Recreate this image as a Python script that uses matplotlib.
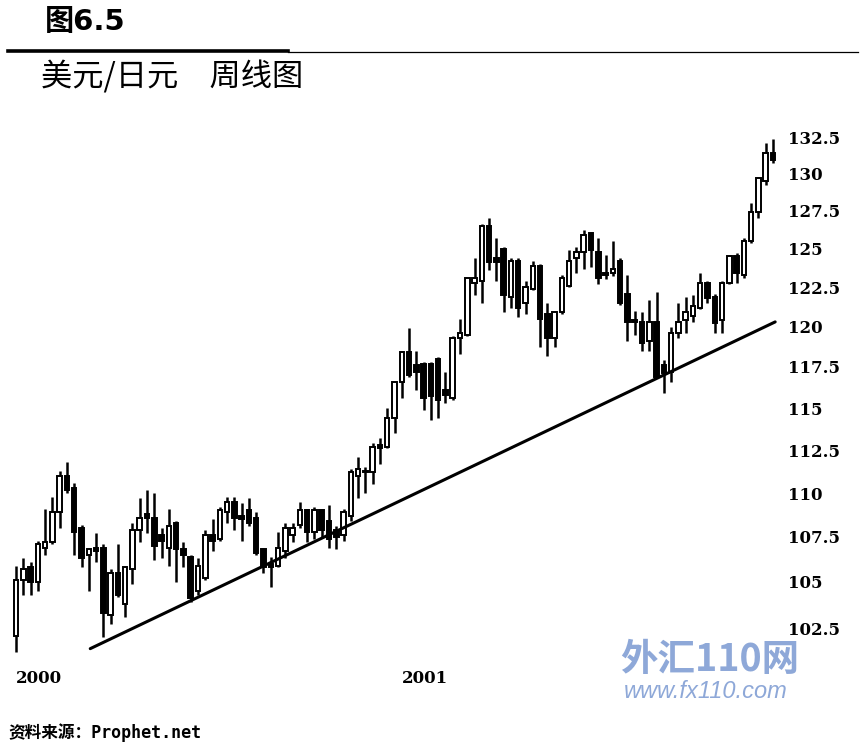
import matplotlib
matplotlib.use("Agg")
import matplotlib.pyplot as plt
from matplotlib.patches import Rectangle
from matplotlib.lines import Line2D
from matplotlib.ticker import FixedLocator, FixedFormatter, NullLocator

# ---------------- data (weekly USD/JPY candles) ----------------
opens = [102.1,105.1,105.8,105.0,106.9,107.2,108.9,111.0,110.3,108.0,
         106.5,106.9,106.9,103.2,105.5,103.8,105.7,107.9,108.8,108.6,
         107.6,106.9,108.3,106.8,106.4,104.5,105.2,107.6,107.4,108.9,
         109.5,108.7,109.0,108.6,106.8,106.0,105.9,106.7,107.6,108.2,
         109.0,107.8,109.0,108.4,107.9,107.6,108.7,111.0,111.3,111.2,
         112.8,112.7,114.4,116.6,118.4,117.6,117.7,117.7,118.0,116.1,
         115.6,119.3,119.5,122.8,122.9,126.5,124.4,125.0,121.9,124.2,
         121.5,122.4,123.9,120.8,119.3,120.9,122.6,124.4,124.8,126.0,
         124.8,123.4,123.4,124.2,122.1,120.4,120.3,119.1,120.3,117.6,
         117.2,119.6,120.4,120.7,121.2,122.8,121.9,120.4,122.8,124.5,
         123.3,125.5,127.4,129.5,131.4]
highs = [105.9,106.3,106.1,107.3,109.1,109.8,111.3,111.8,110.6,108.2,
         106.9,107.7,107.1,105.7,107.1,105.9,108.3,109.7,110.2,110.0,
         108.0,109.1,108.4,107.2,106.5,106.3,107.9,108.5,109.2,109.8,
         109.8,109.4,109.7,108.9,106.9,106.4,107.8,108.3,108.3,109.5,
         109.1,109.2,109.1,109.3,108.1,109.1,111.4,112.1,111.5,112.9,
         113.2,115.0,116.6,118.5,119.9,118.5,117.8,117.8,118.1,117.2,
         119.4,120.5,123.1,124.4,126.6,127.0,125.7,125.1,124.4,124.4,
         122.9,124.2,124.0,121.5,121.0,123.3,124.9,125.1,126.2,126.1,
         125.7,124.6,125.5,124.4,123.3,121.0,120.9,121.7,122.2,117.9,
         120.0,121.5,121.9,122.0,123.4,122.9,122.1,122.9,124.6,124.7,
         125.7,128.0,129.8,132.1,132.4]
lows = [101.2,104.3,104.3,104.5,106.5,107.1,108.0,110.0,106.5,105.8,
        104.5,106.1,102.0,102.7,104.2,103.1,104.9,107.2,107.7,106.2,
        106.3,105.9,105.0,105.8,103.9,104.3,105.1,106.7,107.3,108.3,
        107.9,107.3,108.1,106.5,105.5,104.7,105.8,106.3,107.2,108.0,
        107.2,107.4,107.5,106.9,106.8,107.3,108.4,109.7,110.0,110.5,
        111.7,112.6,113.5,115.6,116.9,116.1,114.9,114.3,114.4,115.3,
        115.5,118.3,119.4,122.0,121.5,123.6,122.9,120.9,121.2,120.6,
        120.8,122.3,118.7,118.2,118.7,120.8,122.5,123.4,123.7,123.8,
        122.7,123.0,123.2,121.4,119.1,119.5,118.5,118.5,116.8,115.9,
        116.6,119.3,119.6,120.3,121.1,121.5,119.6,119.6,122.7,122.8,
        123.1,125.4,127.0,129.2,130.7]
closes = [105.1,105.7,105.0,107.1,107.2,108.9,111.0,110.2,107.8,106.3,
          106.8,106.7,103.3,105.5,104.3,105.8,107.9,108.6,108.6,107.0,
          107.3,108.1,106.8,106.5,104.1,105.9,107.6,107.3,109.0,109.5,
          108.6,108.5,108.3,106.6,105.8,105.8,106.9,108.0,108.0,109.0,
          107.8,109.0,107.9,107.4,107.5,108.9,111.2,111.4,111.2,112.7,
          112.6,114.4,116.6,118.4,117.0,117.2,115.6,115.7,115.5,115.8,
          119.3,119.6,123.1,123.1,126.5,124.1,124.1,122.0,124.2,121.2,
          122.5,123.9,120.5,119.3,120.9,123.1,124.2,124.8,125.9,124.9,
          123.1,123.3,123.7,121.5,120.3,120.3,119.0,120.3,116.9,117.1,
          119.6,120.3,120.9,121.3,122.8,121.8,120.2,122.8,124.5,123.4,
          125.5,127.4,129.7,131.4,130.9]

trend_x = [10.2, 104.3]          # week index
trend_y = [101.4, 120.3]         # price

y_ticks = [102.5, 105, 107.5, 110, 112.5, 115, 117.5, 120, 122.5, 125, 127.5, 130, 132.5]
y_tick_labels = ["102.5", "105", "107.5", "110", "112.5", "115", "117.5",
                 "120", "122.5", "125", "127.5", "130", "132.5"]
x_tick_pos = [0, 53]
x_tick_labels = ["2000", "2001"]

title_num = "图6.5"
subtitle = "美元/日元\u3000周线图"
source = "资料来源：Prophet.net"

# ---------------- figure ----------------
W, H = 863, 753
fig = plt.figure(figsize=(W / 100, H / 100), dpi=100)
fig.patch.set_facecolor("white")

def px(x, y):
    return x / W, 1 - y / H

ax_left, ax_right, ax_top, ax_bot = 8, 781, 120, 660
ax = fig.add_axes([ax_left / W, 1 - ax_bot / H, (ax_right - ax_left) / W, (ax_bot - ax_top) / H])
ax.set_yscale("log")
ax.set_xlim(-1.1, 105.1)
ax.set_ylim(100.8, 133.7)
for s in ax.spines.values():
    s.set_visible(False)

n = len(opens)
bw = 0.62
for i in range(n):
    o, h, l, c = opens[i], highs[i], lows[i], closes[i]
    ax.plot([i, i], [l, h], color="black", lw=1.8, solid_capstyle="butt", zorder=2)
    lo, hi = min(o, c), max(o, c)
    up = c >= o
    ax.add_patch(Rectangle((i - bw / 2, lo), bw, hi - lo,
                           facecolor="white" if up else "black",
                           edgecolor="black", lw=1.4, zorder=3))

ax.plot(trend_x, trend_y, color="black", lw=2.2, zorder=4, solid_capstyle="round")

ax.yaxis.tick_right()
ax.yaxis.set_major_locator(FixedLocator(y_ticks))
ax.yaxis.set_major_formatter(FixedFormatter(y_tick_labels))
ax.yaxis.set_minor_locator(NullLocator())
ax.set_xticks(x_tick_pos)
ax.set_xticklabels(x_tick_labels)
ax.tick_params(axis="y", which="both", length=0, pad=5, labelsize=12,
               labelfontfamily="DejaVu Serif")
ax.tick_params(axis="x", length=0, pad=7, labelsize=12, labelfontfamily="DejaVu Serif")
for lab in ax.get_yticklabels() + ax.get_xticklabels():
    lab.set_fontweight("bold")
for lab in ax.get_xticklabels():
    lab.set_horizontalalignment("left")

cjk = ["Noto Sans CJK SC", "DejaVu Sans"]

fig.text(*px(45, 22), title_num, fontsize=21, fontweight="bold",
         family=["DejaVu Sans", "Noto Sans CJK SC"], ha="left", va="center")
fig.add_artist(Line2D([8 / W, 288 / W], [1 - 51 / H] * 2, lw=2.6, color="black"))
fig.add_artist(Line2D([288 / W, 858 / W], [1 - 52 / H] * 2, lw=0.9, color="black"))
fig.text(*px(41, 77), subtitle, fontsize=22.5, family=cjk, ha="left", va="center")
fig.text(*px(8, 733), source, fontsize=12, fontweight="bold",
         family=["DejaVu Sans Mono", "Noto Sans CJK SC"], ha="left", va="center")

# watermark
fig.text(*px(620, 660), "外汇110网", fontsize=27, fontweight="bold", family=cjk,
         color="#8ea8d8", ha="left", va="center", style="italic")
fig.text(*px(624, 691), "www.fx110.com", fontsize=17, family=["Liberation Sans", "DejaVu Sans"],
         color="#8ea8d8", ha="left", va="center", style="italic")

fig.savefig("out.png", dpi=100, facecolor="white")
